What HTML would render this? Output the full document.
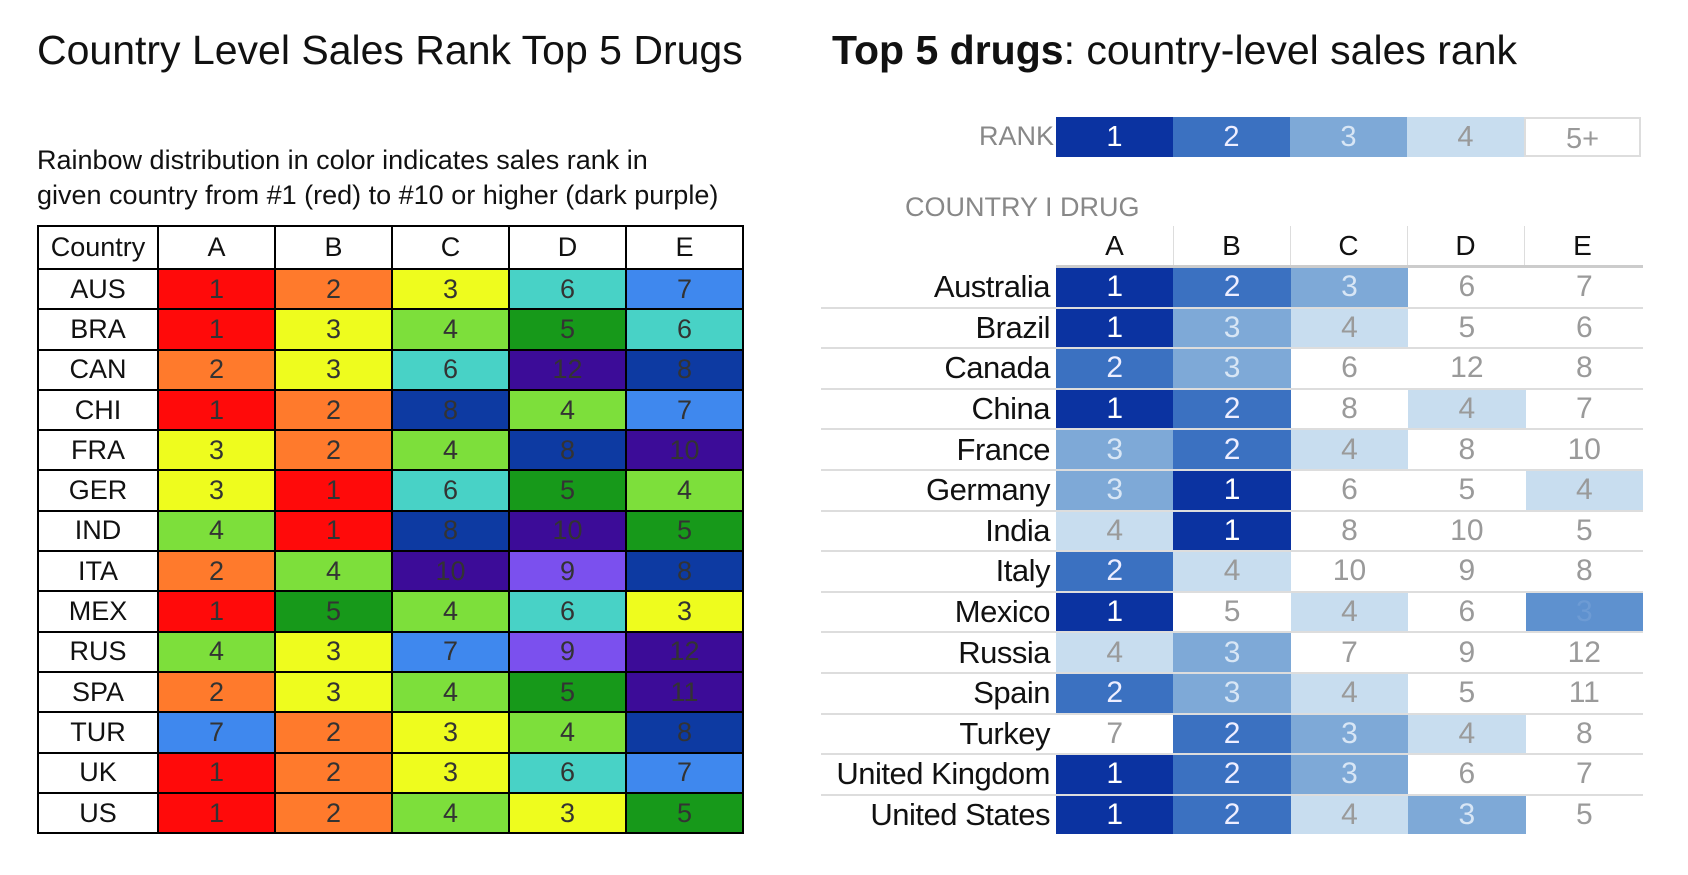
<!DOCTYPE html>
<html><head><meta charset="utf-8"><style>
body{margin:0;width:1688px;height:875px;background:#fff;font-family:"Liberation Sans",sans-serif;position:relative;overflow:hidden}
.a{position:absolute;white-space:nowrap}
table{border-collapse:collapse;table-layout:fixed;position:absolute}
#L{left:37px;top:225px;width:707px;border:2px solid #000}
#L td{border:2px solid #000;height:38.3px;text-align:center;font-size:27px;color:#333;padding:0}
#L tr:first-child td{height:41px;color:#111;font-size:27px;background:#fff}
#L td.c{background:#fff;color:#111}
.r1{background:#ff0a0a}.r2{background:#ff7a2c}.r3{background:#eefc1e}.r4{background:#7ddf3b}.r5{background:#17991a}
.r6{background:#48d2c6}.r7{background:#3f88ee}.r8{background:#0d3aa2}.r9{background:#7b50ee}.r10{background:#3c0c98}
#R{left:821px;top:268px;width:822px}
#R td{height:38.6px;border-bottom:2px solid #ddd;text-align:center;font-size:30px;color:#9a9a9a;padding:0}
#R td.n{text-align:right;color:#111;padding-right:6px;font-size:31px;letter-spacing:-0.5px}
.b1{background:#0b33a1;color:#fff!important}.b2{background:#3b71c1;color:#eef!important}.b3{background:#7ea9d7;color:#d8e6f5!important}.b4{background:#c8ddef}.bx{background:#5e91cf;color:#6d9bd4!important}
.lg{position:absolute;top:117px;height:40px;width:117px;font-size:29px;text-align:center;line-height:40px}
.h{position:absolute;top:230px;width:117px;text-align:center;font-size:28px;color:#111}
</style></head><body>
<div class="a" style="left:37px;top:27px;font-size:41px;color:#111">Country Level Sales Rank Top 5 Drugs</div>
<div class="a" style="left:37px;top:143px;font-size:27px;color:#111;line-height:35px">Rainbow distribution in color indicates sales rank in<br>given country from #1 (red) to #10 or higher (dark purple)</div>
<table id="L">
<colgroup><col style="width:120px"><col><col><col><col><col></colgroup>
<tr><td>Country</td><td>A</td><td>B</td><td>C</td><td>D</td><td>E</td></tr>
<tr><td class="c">AUS</td><td class="r1">1</td><td class="r2">2</td><td class="r3">3</td><td class="r6">6</td><td class="r7">7</td></tr>
<tr><td class="c">BRA</td><td class="r1">1</td><td class="r3">3</td><td class="r4">4</td><td class="r5">5</td><td class="r6">6</td></tr>
<tr><td class="c">CAN</td><td class="r2">2</td><td class="r3">3</td><td class="r6">6</td><td class="r10">12</td><td class="r8">8</td></tr>
<tr><td class="c">CHI</td><td class="r1">1</td><td class="r2">2</td><td class="r8">8</td><td class="r4">4</td><td class="r7">7</td></tr>
<tr><td class="c">FRA</td><td class="r3">3</td><td class="r2">2</td><td class="r4">4</td><td class="r8">8</td><td class="r10">10</td></tr>
<tr><td class="c">GER</td><td class="r3">3</td><td class="r1">1</td><td class="r6">6</td><td class="r5">5</td><td class="r4">4</td></tr>
<tr><td class="c">IND</td><td class="r4">4</td><td class="r1">1</td><td class="r8">8</td><td class="r10">10</td><td class="r5">5</td></tr>
<tr><td class="c">ITA</td><td class="r2">2</td><td class="r4">4</td><td class="r10">10</td><td class="r9">9</td><td class="r8">8</td></tr>
<tr><td class="c">MEX</td><td class="r1">1</td><td class="r5">5</td><td class="r4">4</td><td class="r6">6</td><td class="r3">3</td></tr>
<tr><td class="c">RUS</td><td class="r4">4</td><td class="r3">3</td><td class="r7">7</td><td class="r9">9</td><td class="r10">12</td></tr>
<tr><td class="c">SPA</td><td class="r2">2</td><td class="r3">3</td><td class="r4">4</td><td class="r5">5</td><td class="r10">11</td></tr>
<tr><td class="c">TUR</td><td class="r7">7</td><td class="r2">2</td><td class="r3">3</td><td class="r4">4</td><td class="r8">8</td></tr>
<tr><td class="c">UK</td><td class="r1">1</td><td class="r2">2</td><td class="r3">3</td><td class="r6">6</td><td class="r7">7</td></tr>
<tr><td class="c">US</td><td class="r1">1</td><td class="r2">2</td><td class="r4">4</td><td class="r3">3</td><td class="r5">5</td></tr>
</table>

<div class="a" style="left:832px;top:27px;font-size:41px;color:#111"><b>Top 5 drugs</b>: country-level sales rank</div>
<div class="a" style="left:946px;top:121px;font-size:27px;color:#888;width:108px;text-align:right">RANK</div>
<div class="lg b1" style="left:1056px">1</div>
<div class="lg b2" style="left:1173px">2</div>
<div class="lg b3" style="left:1290px">3</div>
<div class="lg b4" style="left:1407px;color:#999">4</div>
<div class="lg" style="left:1524px;color:#999;border:2px solid #ddd;box-sizing:border-box">5+</div>
<div class="a" style="left:905px;top:192px;font-size:27px;color:#888">COUNTRY I DRUG</div>
<div class="h" style="left:1056px">A</div><div class="h" style="left:1173px">B</div><div class="h" style="left:1290px">C</div><div class="h" style="left:1407px">D</div><div class="h" style="left:1524px">E</div>
<div class="a" style="left:1173px;top:226px;width:1px;height:40px;background:#ddd"></div>
<div class="a" style="left:1290px;top:226px;width:1px;height:40px;background:#ddd"></div>
<div class="a" style="left:1407px;top:226px;width:1px;height:40px;background:#ddd"></div>
<div class="a" style="left:1524px;top:226px;width:1px;height:40px;background:#ddd"></div>
<div class="a" style="left:1056px;top:265px;width:587px;height:3px;background:#ccc"></div>
<table id="R">
<colgroup><col style="width:235px"><col><col><col><col><col></colgroup>
<tr><td class="n">Australia</td><td class="b1">1</td><td class="b2">2</td><td class="b3">3</td><td>6</td><td>7</td></tr>
<tr><td class="n">Brazil</td><td class="b1">1</td><td class="b3">3</td><td class="b4">4</td><td>5</td><td>6</td></tr>
<tr><td class="n">Canada</td><td class="b2">2</td><td class="b3">3</td><td>6</td><td>12</td><td>8</td></tr>
<tr><td class="n">China</td><td class="b1">1</td><td class="b2">2</td><td>8</td><td class="b4">4</td><td>7</td></tr>
<tr><td class="n">France</td><td class="b3">3</td><td class="b2">2</td><td class="b4">4</td><td>8</td><td>10</td></tr>
<tr><td class="n">Germany</td><td class="b3">3</td><td class="b1">1</td><td>6</td><td>5</td><td class="b4">4</td></tr>
<tr><td class="n">India</td><td class="b4">4</td><td class="b1">1</td><td>8</td><td>10</td><td>5</td></tr>
<tr><td class="n">Italy</td><td class="b2">2</td><td class="b4">4</td><td>10</td><td>9</td><td>8</td></tr>
<tr><td class="n">Mexico</td><td class="b1">1</td><td>5</td><td class="b4">4</td><td>6</td><td class="bx">3</td></tr>
<tr><td class="n">Russia</td><td class="b4">4</td><td class="b3">3</td><td>7</td><td>9</td><td>12</td></tr>
<tr><td class="n">Spain</td><td class="b2">2</td><td class="b3">3</td><td class="b4">4</td><td>5</td><td>11</td></tr>
<tr><td class="n">Turkey</td><td>7</td><td class="b2">2</td><td class="b3">3</td><td class="b4">4</td><td>8</td></tr>
<tr><td class="n">United Kingdom</td><td class="b1">1</td><td class="b2">2</td><td class="b3">3</td><td>6</td><td>7</td></tr>
<tr><td class="n" style="border-bottom:none">United States</td><td class="b1" style="border-bottom:none">1</td><td class="b2" style="border-bottom:none">2</td><td class="b4" style="border-bottom:none">4</td><td class="b3" style="border-bottom:none">3</td><td style="border-bottom:none">5</td></tr>
</table>
</body></html>
